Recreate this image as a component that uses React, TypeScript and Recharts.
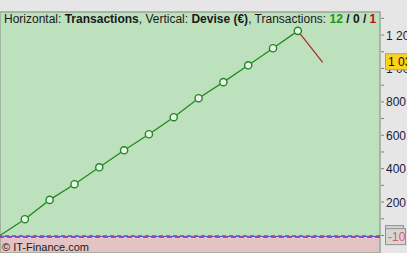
import { ComposedChart, Line, XAxis, YAxis, CartesianGrid, ReferenceArea, ReferenceLine } from "recharts";

const tradeNumbers = [0, 1, 2, 3, 4, 5, 6, 7, 8, 9, 10, 11, 12, 13];
const equityValues = [0, 97, 213, 307, 408, 510, 606, 708, 822, 918, 1019, 1121, 1225, 1037];
const lastWinIndex = 12;
const lastValue = 1037;
const floorValue = -10;

const yTicks = [0, 100, 200, 300, 400, 500, 600, 700, 800, 900, 1000, 1100, 1200, 1300];
const gridY = [200, 400, 600, 800, 1000, 1200];
const gridX = [5, 10, 15];

const chartData = tradeNumbers.map((n, i) => ({
  n,
  green: i <= lastWinIndex ? equityValues[i] : null,
  red: i >= lastWinIndex ? equityValues[i] : null,
}));

// the two value boxes go last so they are drawn over the normal labels
const axisTicks = [...yTicks, floorValue, lastValue];

const font = "'Liberation Sans', Arial, sans-serif";

const fmt = (v: number) => (v >= 1000 ? `${Math.floor(v / 1000)} ${String(v % 1000).padStart(3, "0")}` : String(v));

function GreenDot(props: any) {
  const { cx, cy, index } = props;
  if (index === 0 || cy == null) return null;
  return <circle cx={cx} cy={cy} r={3.6} fill="#eef2ee" stroke="#1f8a22" strokeWidth={1.4} />;
}

function YTick(props: any) {
  const { x, y, payload, index } = props;
  const v = payload.value;
  if (index >= yTicks.length) {
    if (v === lastValue) {
      return (
        <g>
          <rect x={x - 0.5} y={y - 8.5} width={30} height={16} fill="#ffd21a" stroke="#a0a0a0" />
          <text x={x + 2} y={y + 4} fontSize={12} fontFamily={font} fill="#111">
            {fmt(v)}
          </text>
        </g>
      );
    }
    return (
      <g>
        <rect x={x - 0.5} y={y - 11.5} width={18} height={8} fill="#d6d6d6" stroke="#909090" />
        <rect x={x - 0.5} y={y - 8.5} width={20} height={16} fill="#d6d6d6" stroke="#909090" />
        <text x={x + 2} y={y + 4} fontSize={12} fontFamily={font} fill="#e05a5a">
          {v}
        </text>
      </g>
    );
  }
  return (
    <g>
      <line x1={x - 5} x2={x - 2} y1={y} y2={y} stroke="#808080" />
      {v > 0 && v % 200 === 0 ? (
        <text x={x} y={y + 4.5} fontSize={12} fontFamily={font} fill="#1a1a3a" textAnchor="start">
          {fmt(v)}
        </text>
      ) : null}
    </g>
  );
}

export default function App() {
  return (
    <div style={{ position: "absolute", left: 0, top: 0, width: 407, height: 253, background: "#e6e6e6", overflow: "hidden" }}>
      <ComposedChart width={407} height={253} data={chartData} margin={{ top: 12, right: 0, bottom: 0, left: 0 }}>
        <XAxis dataKey="n" type="number" domain={[0, 15.31]} hide />
        <YAxis
          orientation="right"
          width={27}
          domain={[-105, 1338]}
          ticks={axisTicks}
          interval={0}
          tickSize={4}
          tickMargin={2}
          axisLine={false}
          tickLine={false}
          tick={YTick}
          allowDataOverflow
        />
        <ReferenceArea x1={0} x2={15.31} y1={0} y2={1338} fill="#bde0bd" fillOpacity={1} stroke="none" />
        <ReferenceArea x1={0} x2={15.31} y1={floorValue} y2={0} fill="#f4f4f4" fillOpacity={1} stroke="none" />
        <ReferenceArea x1={0} x2={15.31} y1={-105} y2={floorValue} fill="#e3c3c3" fillOpacity={1} stroke="none" />
        <CartesianGrid horizontalValues={gridY} verticalValues={gridX} stroke="#a3c8a3" strokeWidth={1} />
        <ReferenceLine y={0} stroke="#44c044" strokeDasharray="4 3" strokeWidth={1} />
        <ReferenceLine y={-5} stroke="#2a2ad8" strokeWidth={1} />
        <ReferenceLine y={floorValue} stroke="#e03a5a" strokeDasharray="5 3" strokeWidth={1.5} />
        <ReferenceArea x1={0} x2={15.31} y1={-105} y2={1338} fill="none" stroke="#98a898" strokeWidth={1.5} />
        <Line dataKey="red" stroke="#b02626" strokeWidth={1.2} dot={false} isAnimationActive={false} connectNulls={false} />
        <Line dataKey="green" stroke="#228b22" strokeWidth={1.3} dot={GreenDot} isAnimationActive={false} connectNulls={false} />
      </ComposedChart>
      <div style={{ position: "absolute", left: 4, top: 12, fontFamily: font, fontSize: 12, lineHeight: "14px", color: "#1a1a1a", whiteSpace: "nowrap" }}>
        Horizontal: <b>Transactions</b>, Vertical: <b>Devise (€)</b>, Transactions: <b style={{ color: "#1a961a" }}>12</b> <b>/</b> <b>0</b> <b>/</b>{" "}
        <b style={{ color: "#c01010" }}>1</b>
      </div>
      <div style={{ position: "absolute", left: 2, top: 241, fontFamily: font, fontSize: 11, lineHeight: "13px", color: "#1a1a1a", whiteSpace: "nowrap" }}>
        © IT-Finance.com
      </div>
    </div>
  );
}
